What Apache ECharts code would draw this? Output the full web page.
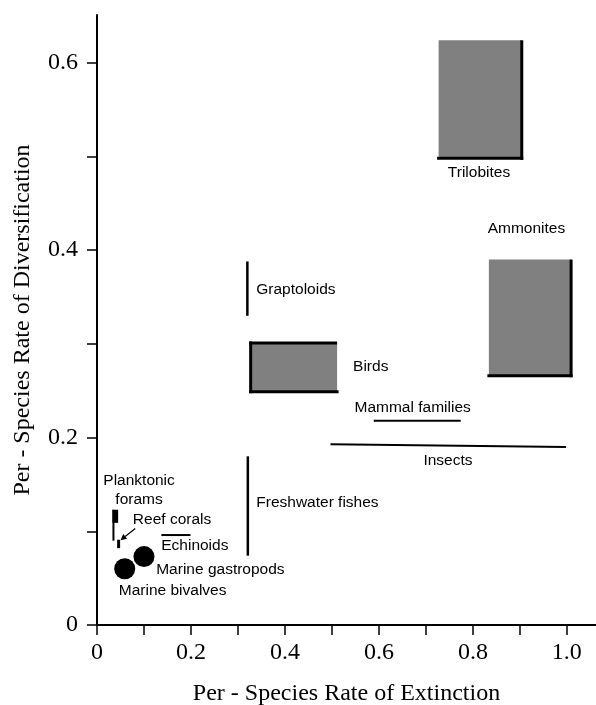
<!DOCTYPE html>
<html><head><meta charset="utf-8">
<script src="https://cdn.jsdelivr.net/npm/echarts@6/dist/echarts.min.js"></script>
<style>html,body{margin:0;padding:0;background:#fff}#c{width:596px;height:705px}</style>
</head><body><div id="c"></div>
<script>
// ---- tick values ----
const xTickValues = [0, 0.1, 0.2, 0.3, 0.4, 0.5, 0.6, 0.7, 0.8, 0.9, 1.0];
const xLabelValues = [0, 0.2, 0.4, 0.6, 0.8, 1.0];
const yTickValues = [0, 0.1, 0.2, 0.3, 0.4, 0.5, 0.6];
const yLabelValues = [0, 0.2, 0.4, 0.6];

// ---- ranges drawn as grey boxes (extinction min/max, diversification min/max) ----
const boxNames   = ['Trilobites', 'Ammonites', 'Birds'];
const boxExtMin  = [0.727, 0.834, 0.327];
const boxExtMax  = [0.904, 1.009, 0.511];
const boxDivMin  = [0.498, 0.266, 0.249];
const boxDivMax  = [0.624, 0.390, 0.301];

// ---- ranges drawn as lines ----
const segNames = ['Graptoloids', 'Freshwater fishes', 'Mammal families', 'Insects', 'Echinoids', 'Planktonic forams', 'Reef corals'];
const segExt0  = [0.320, 0.321, 0.589, 0.497, 0.137, 0.035, 0.046];
const segExt1  = [0.320, 0.321, 0.774, 0.998, 0.199, 0.035, 0.046];
const segDiv0  = [0.330, 0.074, 0.218, 0.193, 0.096, 0.090, 0.082];
const segDiv1  = [0.388, 0.180, 0.218, 0.190, 0.096, 0.123, 0.091];

// planktonic forams dense part (ext min/max, div min/max)
const foramCore = [0.035, 0.045, 0.109, 0.123];

// ---- point estimates ----
const pointNames = ['Marine gastropods', 'Marine bivalves'];
const pointExt   = [0.100, 0.059];
const pointDiv   = [0.073, 0.060];

// ---- annotation labels ----
const labelTexts = ['Trilobites', 'Ammonites', 'Graptoloids', 'Birds', 'Mammal families', 'Insects', 'Freshwater fishes', 'Planktonic\nforams', 'Reef corals', 'Echinoids', 'Marine gastropods', 'Marine bivalves'];
const labelExt   = [0.813, 0.914, 0.339, 0.545, 0.548, 0.747, 0.339, 0.0895, 0.0763, 0.1367, 0.126, 0.0464];
const labelDiv   = [0.4826, 0.4226, 0.3579, 0.2754, 0.2317, 0.1758, 0.1303, 0.1442, 0.1125, 0.0848, 0.0592, 0.0371];
const labelAlign = ['center', 'center', 'left', 'left', 'left', 'center', 'left', 'center', 'left', 'left', 'left', 'left'];

// reef corals arrow: from label toward mark
const arrowFrom = [0.0814, 0.103];
const arrowTo   = [0.050, 0.0905];

// which sides of each box carry a black edge
const boxEdges = { 'Trilobites': ['right', 'bottom'], 'Ammonites': ['right', 'bottom'], 'Birds': ['top', 'left', 'bottom'] };
const segWidths = { 'Graptoloids': 2.5, 'Freshwater fishes': 2.5, 'Mammal families': 2, 'Insects': 2, 'Echinoids': 2, 'Planktonic forams': 2, 'Reef corals': 3 };

const serif = 'Liberation Serif, Times New Roman, serif';
const sans = 'Liberation Sans, Arial, Helvetica, sans-serif';

const chart = echarts.init(document.getElementById('c'), null, { renderer: 'canvas' });

const boxData = boxNames.map((n, i) => [boxExtMin[i], boxDivMin[i], boxExtMax[i], boxDivMax[i]]);
const segData = segNames.map((n, i) => [segExt0[i], segDiv0[i], segExt1[i], segDiv1[i]]);
const ptData = pointNames.map((n, i) => [pointExt[i], pointDiv[i]]);
const lblData = labelTexts.map((t, i) => [labelExt[i], labelDiv[i]]);

function fmt(v) { return v === 0 ? '0' : v.toFixed(1); }

chart.setOption({
  animation: false,
  backgroundColor: '#fff',
  grid: { left: 97, right: 0, top: 15, bottom: 80, containLabel: false, outerBoundsMode: 'none' },
  xAxis: {
    type: 'value', min: 0, max: 1.062,
    name: 'Per - Species Rate of Extinction', nameLocation: 'middle', nameGap: 57,
    nameTextStyle: { fontFamily: serif, fontSize: 24, color: '#000' },
    axisLine: { show: true, onZero: false, lineStyle: { color: '#000', width: 2 } },
    axisTick: { show: true, inside: false, length: 10, customValues: xTickValues, lineStyle: { color: '#000', width: 1.5 } },
    axisLabel: { customValues: xLabelValues, formatter: fmt, margin: 16, fontFamily: serif, fontSize: 24, color: '#000' },
    splitLine: { show: false }
  },
  yAxis: {
    type: 'value', min: 0, max: 0.651,
    name: 'Per - Species Rate of Diversification', nameLocation: 'middle', nameGap: 62, nameRotate: 90,
    nameTextStyle: { fontFamily: serif, fontSize: 24, color: '#000' },
    axisLine: { show: true, onZero: false, lineStyle: { color: '#000', width: 2 } },
    axisTick: { show: true, inside: false, length: 10, customValues: yTickValues, lineStyle: { color: '#000', width: 1.5 } },
    axisLabel: { customValues: yLabelValues, formatter: fmt, margin: 19, fontFamily: serif, fontSize: 24, color: '#000', padding: [0, 0, 4, 0] },
    splitLine: { show: false }
  },
  series: [
    {
      type: 'custom', name: 'boxes', clip: false,
      encode: { x: [0, 2], y: [1, 3] },
      data: boxData,
      renderItem: function (params, api) {
        const p0 = api.coord([api.value(0), api.value(1)]);
        const p1 = api.coord([api.value(2), api.value(3)]);
        const x0 = p0[0], x1 = p1[0], yb = p0[1], yt = p1[1];
        const children = [{ type: 'rect', shape: { x: x0, y: yt, width: x1 - x0, height: yb - yt }, style: { fill: '#808080' } }];
        const edges = boxEdges[boxNames[params.dataIndex]];
        const ls = { stroke: '#000', lineWidth: 3 };
        edges.forEach(e => {
          let s;
          if (e === 'right') s = { x1: x1, y1: yt, x2: x1, y2: yb + 1.5 };
          if (e === 'left') s = { x1: x0, y1: yt - 1.5, x2: x0, y2: yb + 1.5 };
          if (e === 'top') s = { x1: x0 - 1.5, y1: yt, x2: x1, y2: yt };
          if (e === 'bottom') s = { x1: x0 - 1.5, y1: yb, x2: x1 + 1.5, y2: yb };
          children.push({ type: 'line', shape: s, style: ls });
        });
        return { type: 'group', children: children };
      }
    },
    {
      type: 'custom', name: 'segments', clip: false,
      encode: { x: [0, 2], y: [1, 3] },
      data: segData,
      renderItem: function (params, api) {
        const p0 = api.coord([api.value(0), api.value(1)]);
        const p1 = api.coord([api.value(2), api.value(3)]);
        return { type: 'line', shape: { x1: p0[0], y1: p0[1], x2: p1[0], y2: p1[1] },
          style: { stroke: '#000', lineWidth: segWidths[segNames[params.dataIndex]] } };
      }
    },
    {
      type: 'custom', name: 'foramCore', clip: false,
      encode: { x: [0, 1], y: [2, 3] },
      data: [foramCore],
      renderItem: function (params, api) {
        const p0 = api.coord([api.value(0), api.value(2)]);
        const p1 = api.coord([api.value(1), api.value(3)]);
        return { type: 'rect', shape: { x: p0[0] - 1, y: p1[1], width: p1[0] - p0[0] + 1, height: p0[1] - p1[1] }, style: { fill: '#000' } };
      }
    },
    {
      type: 'scatter', name: 'points', symbol: 'circle', symbolSize: 21,
      itemStyle: { color: '#000', opacity: 1 },
      data: ptData
    },
    {
      type: 'custom', name: 'arrow', clip: false,
      encode: { x: [0, 2], y: [1, 3] },
      data: [[arrowFrom[0], arrowFrom[1], arrowTo[0], arrowTo[1]]],
      renderItem: function (params, api) {
        const a = api.coord([api.value(0), api.value(1)]);
        const b = api.coord([api.value(2), api.value(3)]);
        const dx = b[0] - a[0], dy = b[1] - a[1];
        const L = Math.sqrt(dx * dx + dy * dy);
        const ux = dx / L, uy = dy / L;
        const hl = 6, hw = 3;
        const bx = b[0] - ux * hl, by = b[1] - uy * hl;
        return { type: 'group', children: [
          { type: 'line', shape: { x1: a[0], y1: a[1], x2: bx, y2: by }, style: { stroke: '#000', lineWidth: 1.2 } },
          { type: 'polygon', shape: { points: [[b[0], b[1]], [bx - uy * hw, by + ux * hw], [bx + uy * hw, by - ux * hw]] }, style: { fill: '#000' } }
        ] };
      }
    },
    {
      type: 'custom', name: 'labels', clip: false,
      encode: { x: 0, y: 1 },
      data: lblData,
      renderItem: function (params, api) {
        const p = api.coord([api.value(0), api.value(1)]);
        const i = params.dataIndex;
        return { type: 'text', x: p[0], y: p[1], style: {
          text: labelTexts[i], fill: '#000', font: '15.5px ' + sans, lineHeight: 19,
          align: labelAlign[i], verticalAlign: 'middle' } };
      }
    }
  ]
});
</script>
</body></html>
